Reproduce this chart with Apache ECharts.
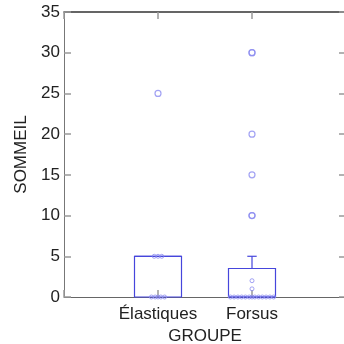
<!DOCTYPE html>
<html>
<head>
<meta charset="utf-8">
<script src="https://cdn.jsdelivr.net/npm/echarts@6/dist/echarts.min.js"></script>
<style>
  html, body { margin: 0; padding: 0; background: #fff; }
  #chart { width: 344px; height: 344px; }
</style>
</head>
<body>
<div id="chart"></div>
<script>
// Groups and their position on the x axis
const groups = ['Élastiques', 'Forsus'];
const groupPos = [1, 2];

// Box statistics per group: [lower whisker, Q1, median, Q3, upper whisker]
const boxStats = [
  [0, 0, 5, 5, 5],
  [0, 0, 0, 3.5, 5]
];

// Outliers per group
const outliersElastiques = [25];
const outliersForsus = [10, 10, 15, 20, 30, 30];

// Individual observations (jittered x, value)
const pointsElastiquesX = [0.93, 0.97, 1.0, 1.03, 1.07, 0.96, 1.0, 1.04];
const pointsElastiquesY = [0, 0, 0, 0, 0, 5, 5, 5];
const pointsForsusX = [1.77, 1.81, 1.85, 1.89, 1.93, 1.97, 2.0, 2.03, 2.07, 2.11, 2.15, 2.19, 2.23, 2.0, 2.0];
const pointsForsusY = [0, 0, 0, 0, 0, 0, 0, 0, 0, 0, 0, 0, 0, 1, 2];

const yTicks = [0, 5, 10, 15, 20, 25, 30, 35];

const boxColor = '#4646dc';
const pointColor = '#8c8cf0';
const font = 'Liberation Sans, Arial, sans-serif';
const fontSize = 17;

const boxData = boxStats.map((s, i) => [groupPos[i]].concat(s));

const outlierData = [];
outliersElastiques.forEach(v => outlierData.push([groupPos[0], v]));
outliersForsus.forEach(v => outlierData.push([groupPos[1], v]));

const pointData = [];
pointsElastiquesX.forEach((x, i) => pointData.push([x, pointsElastiquesY[i]]));
pointsForsusX.forEach((x, i) => pointData.push([x, pointsForsusY[i]]));

const halfBox = 0.25;
const halfCap = 0.05;

function renderBox(params, api) {
  const x = api.value(0);
  const lo = api.value(1), q1 = api.value(2), med = api.value(3), q3 = api.value(4), hi = api.value(5);
  const tl = api.coord([x - halfBox, q3]);
  const br = api.coord([x + halfBox, q1]);
  const style = { stroke: boxColor, lineWidth: 1.2, fill: null };
  const seg = (a, b) => ({ type: 'line', shape: { x1: a[0], y1: a[1], x2: b[0], y2: b[1] }, style });
  const children = [
    { type: 'rect', shape: { x: tl[0], y: tl[1], width: br[0] - tl[0], height: br[1] - tl[1] }, style },
    seg(api.coord([x - halfBox, med]), api.coord([x + halfBox, med]))
  ];
  if (hi > q3) {
    children.push(seg(api.coord([x, q3]), api.coord([x, hi])));
    children.push(seg(api.coord([x - halfCap, hi]), api.coord([x + halfCap, hi])));
  }
  if (lo < q1) {
    children.push(seg(api.coord([x, q1]), api.coord([x, lo])));
    children.push(seg(api.coord([x - halfCap, lo]), api.coord([x + halfCap, lo])));
  }
  return { type: 'group', children };
}

const chart = echarts.init(document.getElementById('chart'), null, { renderer: 'canvas' });

const tickStyle = { show: true, inside: true, length: 7, lineStyle: { color: '#999', width: 1.5 } };

chart.setOption({
  animation: false,
  backgroundColor: '#fff',
  grid: { left: 64, right: -2, top: 12, bottom: 47, outerBoundsMode: 'none', containLabel: false },
  xAxis: [
    {
      type: 'value', min: 0, max: 3, interval: 1, position: 'bottom',
      splitLine: { show: false },
      axisLine: { show: true, onZero: false, lineStyle: { color: '#666', width: 1 } },
      axisTick: tickStyle,
      axisLabel: {
        margin: 9, fontSize: fontSize, color: '#222', fontFamily: font,
        formatter: v => { const i = groupPos.indexOf(v); return i >= 0 ? groups[i] : ''; }
      },
      name: 'GROUPE', nameLocation: 'middle', nameGap: 29,
      nameTextStyle: { fontSize: fontSize, color: '#222', fontFamily: font }
    },
    {
      type: 'value', min: 0, max: 3, interval: 1, position: 'top',
      splitLine: { show: false },
      axisLine: { show: true, onZero: false, lineStyle: { color: '#333', width: 1.5 } },
      axisTick: tickStyle,
      axisLabel: { show: false }
    }
  ],
  yAxis: [
    {
      type: 'value', min: yTicks[0], max: yTicks[yTicks.length - 1], interval: 5, position: 'left',
      splitLine: { show: false },
      axisLine: { show: true, onZero: false, lineStyle: { color: '#777', width: 1 } },
      axisTick: tickStyle,
      axisLabel: { margin: 4, fontSize: fontSize, color: '#222', fontFamily: font },
      name: 'SOMMEIL', nameLocation: 'middle', nameGap: 31,
      nameTextStyle: { fontSize: fontSize, color: '#222', fontFamily: font }
    },
    {
      type: 'value', min: yTicks[0], max: yTicks[yTicks.length - 1], interval: 5, position: 'right',
      splitLine: { show: false },
      axisLine: { show: false, onZero: false },
      axisTick: tickStyle,
      axisLabel: { show: false }
    }
  ],
  series: [
    {
      type: 'custom', renderItem: renderBox, data: boxData,
      encode: { x: 0, y: [1, 2, 3, 4, 5] }, z: 3
    },
    {
      type: 'scatter', data: pointData, symbol: 'circle', symbolSize: 4,
      itemStyle: { color: 'rgba(255,255,255,0)', borderColor: pointColor, borderWidth: 1 }, z: 4
    },
    {
      type: 'scatter', data: outlierData, symbol: 'circle', symbolSize: 6,
      itemStyle: { color: 'rgba(255,255,255,0)', borderColor: pointColor, borderWidth: 1.2 }, z: 4
    }
  ]
});
</script>
</body>
</html>
